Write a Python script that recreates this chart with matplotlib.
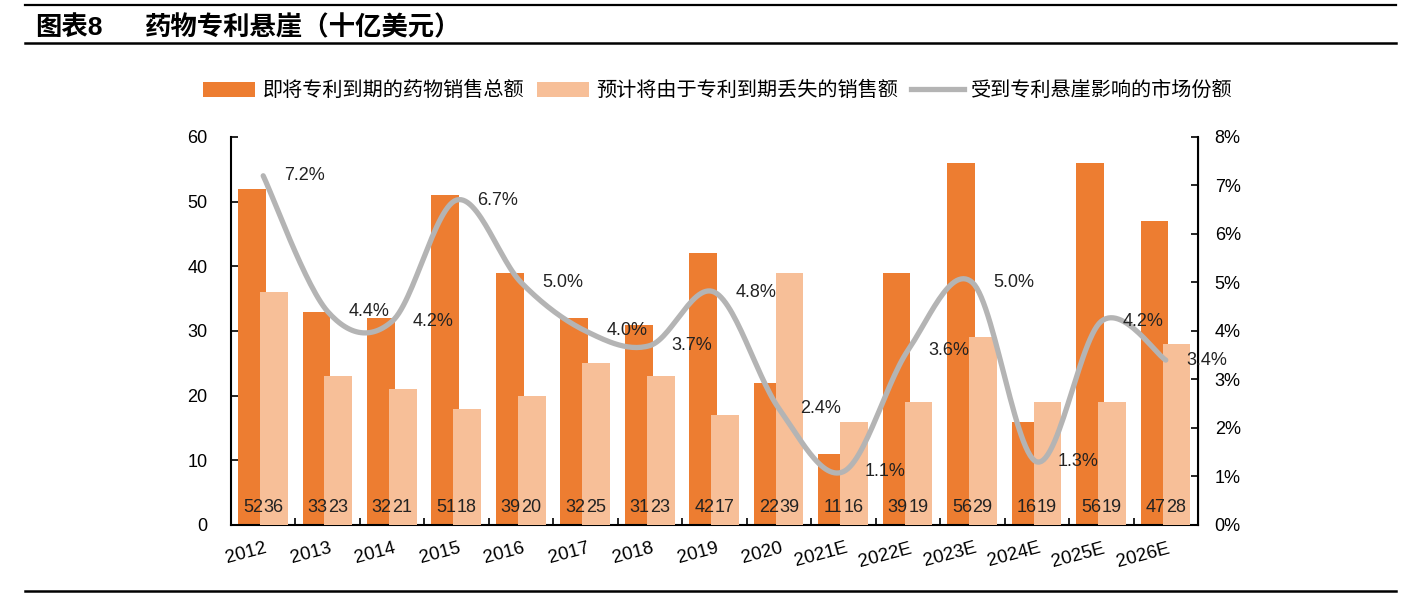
import numpy as np
import matplotlib.pyplot as plt
from matplotlib.lines import Line2D
from matplotlib.patches import Patch
plt.switch_backend('Agg')

plt.rcParams['font.family'] = ['Liberation Sans', 'Noto Sans CJK SC', 'DejaVu Sans']

# 数据
years = ['2012', '2013', '2014', '2015', '2016', '2017', '2018', '2019', '2020',
         '2021E', '2022E', '2023E', '2024E', '2025E', '2026E']
total_sales = [52, 33, 32, 51, 39, 32, 31, 42, 22, 11, 39, 56, 16, 56, 47]
lost_sales = [36, 23, 21, 18, 20, 25, 23, 17, 39, 16, 19, 29, 19, 19, 28]
share_pct = [7.2, 4.4, 4.2, 6.7, 5.0, 4.0, 3.7, 4.8, 2.4, 1.1, 3.6, 5.0, 1.3, 4.2, 3.4]

legend_labels = ['即将专利到期的药物销售总额', '预计将由于专利到期丢失的销售额', '受到专利悬崖影响的市场份额']

dark = '#ED7D31'
light = '#F7BF98'
gray = '#B4B4B4'

fig = plt.figure(figsize=(14.24, 5.93), dpi=100)
ax = fig.add_axes([0.1622, 0.1147, 0.6791, 0.6543])
ax2 = ax.twinx()

x = np.arange(len(years))
w = 0.43
ax.bar(x - 0.175, total_sales, w, color=dark, zorder=2)
ax.bar(x + 0.165, lost_sales, w, color=light, zorder=3)

for i in range(len(years)):
    ax.text(x[i] - 0.16, 1.4, str(total_sales[i]), ha='center', va='bottom',
            fontsize=13, color='#222222', zorder=5)
    ax.text(x[i] + 0.16, 1.4, str(lost_sales[i]), ha='center', va='bottom',
            fontsize=13, color='#222222', zorder=5)

ax.set_ylim(0, 60)
ax.set_yticks(range(0, 61, 10))
ax.set_xlim(-0.5, len(years) - 0.5)
ax.set_xticks(np.arange(-0.5, len(years), 1.0))
ax.set_xticklabels([])
ax.tick_params(axis='x', direction='in', length=5, width=1.2)
ax.tick_params(axis='y', direction='in', length=5, width=1.2, labelsize=13, pad=17)
for i, yr in enumerate(years):
    ax.text(i + 0.02, -2.3, yr, rotation=15, rotation_mode='anchor', ha='right', va='top',
            fontsize=13.5, transform=ax.transData)

for s in ['top']:
    ax.spines[s].set_visible(False)
    ax2.spines[s].set_visible(False)
for s in ['left', 'bottom']:
    ax.spines[s].set_linewidth(1.5)
ax2.spines['right'].set_linewidth(1.5)
ax2.spines['left'].set_visible(False)
ax2.spines['bottom'].set_visible(False)

# 平滑折线 (Catmull-Rom)
px = x.astype(float)
py = np.array(share_pct, dtype=float)
cx, cy = [], []
n = len(px)
t = np.linspace(0, 1, 30)
for i in range(n - 1):
    p0 = np.array([px[max(i - 1, 0)], py[max(i - 1, 0)]])
    p1 = np.array([px[i], py[i]])
    p2 = np.array([px[i + 1], py[i + 1]])
    p3 = np.array([px[min(i + 2, n - 1)], py[min(i + 2, n - 1)]])
    b1 = p1 + (p2 - p0) / 6
    b2 = p2 - (p3 - p1) / 6
    seg = ((1 - t) ** 3)[:, None] * p1 + (3 * (1 - t) ** 2 * t)[:, None] * b1 \
        + (3 * (1 - t) * t ** 2)[:, None] * b2 + (t ** 3)[:, None] * p2
    cx.extend(seg[:, 0])
    cy.extend(seg[:, 1])
ax2.plot(cx, cy, color=gray, lw=3.8, solid_capstyle='round', zorder=4)

for i in range(n):
    ax2.annotate(f'{share_pct[i]:.1f}%', (px[i], py[i]), xytext=(15, 0),
                 textcoords='offset points', ha='left', va='center', fontsize=13,
                 color='#222222', zorder=6)

ax2.set_ylim(0, 8)
ax2.set_yticks(range(0, 9))
ax2.set_yticklabels([f'{v}%' for v in range(0, 9)])
ax2.tick_params(axis='y', direction='in', length=5, width=1.2, labelsize=13, pad=12)

handles = [Patch(facecolor=dark, edgecolor='none'),
           Patch(facecolor=light, edgecolor='none'),
           Line2D([0], [0], color=gray, lw=3.8)]
fig.legend(handles, legend_labels, loc='center', bbox_to_anchor=(0.504, 0.847), ncol=3,
           frameon=False, fontsize=14.5, handlelength=2.6, handleheight=0.75,
           handletextpad=0.35, columnspacing=0.65)

# 标题与分隔线
fig.add_artist(Line2D([0.0176, 0.980], [0.9916, 0.9916], color='black', lw=1.6))
fig.add_artist(Line2D([0.0176, 0.980], [0.9275, 0.9275], color='black', lw=1.8))
fig.add_artist(Line2D([0.0176, 0.980], [0.004, 0.004], color='black', lw=1.8))
fig.text(0.0245, 0.954, '图表8', fontsize=19, fontweight='bold', va='center', ha='left')
fig.text(0.1015, 0.954, '药物专利悬崖（十亿美元）', fontsize=19, fontweight='bold',
         va='center', ha='left')

fig.savefig('out.png', dpi=100)
